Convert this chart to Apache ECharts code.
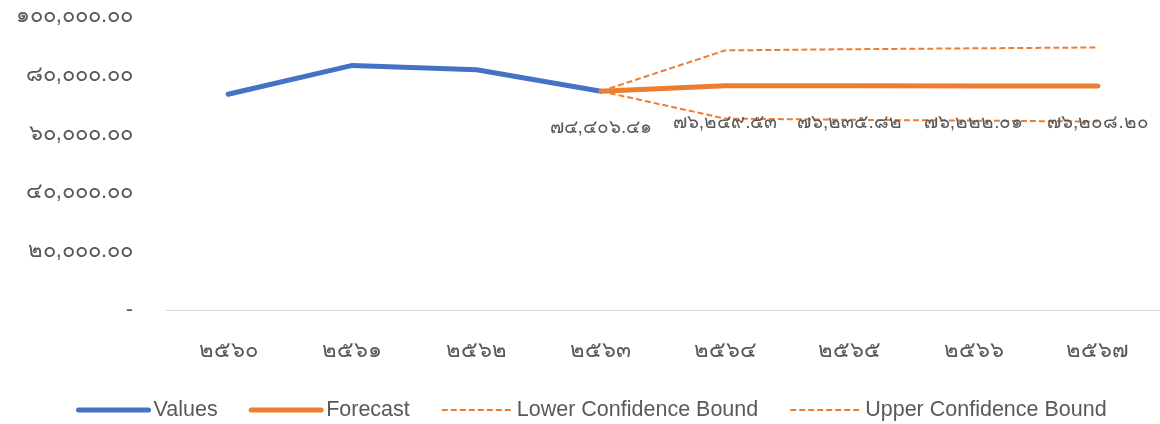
<!DOCTYPE html>
<html>
<head>
<meta charset="utf-8">
<script src="https://cdn.jsdelivr.net/npm/echarts@6/dist/echarts.min.js"></script>
<style>
  html, body { margin: 0; padding: 0; background: #fff; }
  #main { width: 1160px; height: 424px; }
</style>
</head>
<body>
<div id="main"></div>
<script>
// ปี พ.ศ.
var categories = ['๒๕๖๐', '๒๕๖๑', '๒๕๖๒', '๒๕๖๓', '๒๕๖๔', '๒๕๖๕', '๒๕๖๖', '๒๕๖๗'];
var values = [73400, 83200, 81700, 74406.41, null, null, null, null];
var forecast = [null, null, null, 74406.41, 76249.53, 76235.82, 76222.01, 76208.20];
var lowerBound = [null, null, null, 74406.41, 65100, 64700, 64400, 64100];
var upperBound = [null, null, null, 74406.41, 88300, 88700, 89000, 89300];
var seriesNames = ['Values', 'Forecast', 'Lower Confidence Bound', 'Upper Confidence Bound'];

var thaiDigits = '๐๑๒๓๔๕๖๗๘๙';
function toThai(s) {
    return String(s).replace(/[0-9]/g, function (d) { return thaiDigits[+d]; });
}
function fmt(v) {
    if (v === 0) return '-';
    return toThai(v.toLocaleString('en-US', { minimumFractionDigits: 2, maximumFractionDigits: 2 }));
}

var textColor = '#595959';
var font = 'sans-serif';

var myChart = echarts.init(document.getElementById('main'));
myChart.setOption({
    animation: false,
    grid: { left: 166, right: 0, top: 16, bottom: 114 },
    legend: {
        data: seriesNames,
        left: 71,
        bottom: -2,
        itemWidth: 70,
        itemHeight: 12,
        itemGap: 31,
        itemStyle: { opacity: 0 },
        lineStyle: { width: 'inherit', type: 'inherit' },
        textStyle: { color: textColor, fontSize: 21.5, fontFamily: font }
    },
    xAxis: {
        type: 'category',
        data: categories,
        boundaryGap: true,
        axisLine: { lineStyle: { color: '#d9d9d9', width: 1 } },
        axisTick: { show: false },
        axisLabel: { color: textColor, fontSize: 22, margin: 30, fontFamily: font }
    },
    yAxis: {
        type: 'value',
        min: 0,
        max: 100000,
        interval: 20000,
        splitLine: { show: false },
        axisLine: { show: false },
        axisTick: { show: false },
        axisLabel: { color: textColor, fontSize: 22, margin: 33, fontFamily: font, formatter: fmt }
    },
    series: [
        {
            name: seriesNames[0], type: 'line', data: values,
            symbol: 'none',
            lineStyle: { color: '#4472c4', width: 5, cap: 'round' },
            itemStyle: { color: '#4472c4' }
        },
        {
            name: seriesNames[1], type: 'line', data: forecast,
            symbol: 'none',
            lineStyle: { color: '#ed7d31', width: 5, cap: 'round' },
            itemStyle: { color: '#ed7d31' }
        },
        {
            name: seriesNames[2], type: 'line', data: lowerBound,
            symbol: 'none',
            lineStyle: { color: '#ed7d31', width: 2, type: [6, 3] },
            itemStyle: { color: '#ed7d31' }
        },
        {
            name: seriesNames[3], type: 'line', data: upperBound,
            symbol: 'none',
            lineStyle: { color: '#ed7d31', width: 2, type: [6, 3] },
            itemStyle: { color: '#ed7d31' }
        },
        {
            // ป้ายค่าพยากรณ์ (ไม่แสดงใน legend)
            name: 'forecastLabels', type: 'line', data: forecast,
            symbol: 'circle', symbolSize: 1, showSymbol: true,
            lineStyle: { width: 0, color: 'transparent' },
            itemStyle: { color: 'transparent', borderWidth: 0 },
            silent: true,
            z: 5,
            label: {
                show: true, position: 'bottom', distance: 27,
                color: textColor, fontSize: 19, fontFamily: font,
                formatter: function (p) { return fmt(p.value); }
            }
        }
    ]
});
</script>
</body>
</html>
